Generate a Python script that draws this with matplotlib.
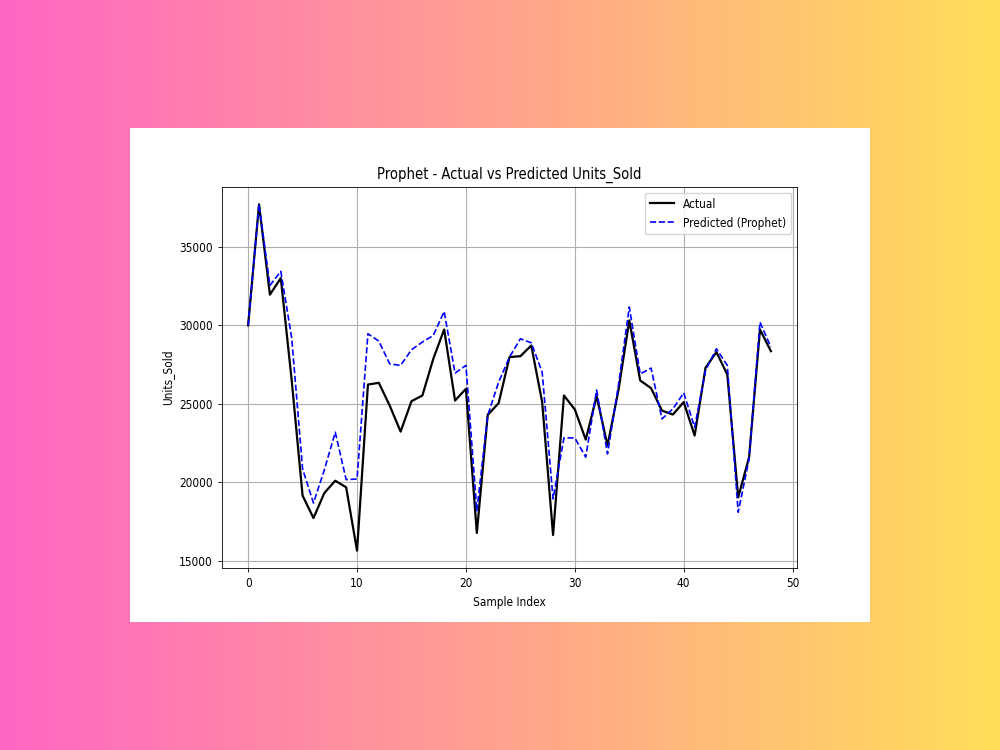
import numpy as np
import matplotlib
matplotlib.use('Agg')
import matplotlib.pyplot as plt
from matplotlib.colors import LinearSegmentedColormap
from matplotlib.patches import Rectangle
from matplotlib import font_manager

# values
actual = [30000, 37720, 31960, 33020, 26500, 19150, 17720, 19320, 20100, 19680,
          15640, 26230, 26340, 24890, 23230, 25170, 25530, 27870, 29740, 25210,
          25960, 16770, 24300, 25040, 27980, 28040, 28720, 25110, 16640, 25530,
          24640, 22720, 25490, 22340, 25850, 30320, 26490, 26000, 24570, 24320,
          25110, 22980, 27300, 28300, 26870, 19040, 21600, 29740, 28360]
predicted = [30000, 37720, 32550, 33450, 29200, 20850, 18680, 20800, 23190, 20170,
             20210, 29470, 29000, 27550, 27450, 28450, 28940, 29360, 30890, 26960,
             27450, 18190, 24260, 26380, 27980, 29150, 28890, 27020, 18940, 22830,
             22830, 21600, 25880, 21810, 26170, 31170, 26910, 27280, 24040, 24680,
             25700, 23510, 27130, 28510, 27450, 18090, 21490, 30210, 28620]
idx = np.arange(len(actual))

# condensed look of the reference text
fp = font_manager.FontProperties(family='DejaVu Sans', stretch='condensed')
print(font_manager.findfont(fp))
plt.rcParams['font.stretch'] = 'condensed'

fig = plt.figure(figsize=(10, 7.5), dpi=100)

# gradient background + white card
bg = fig.add_axes([0, 0, 1, 1])
bg.axis('off')
grad = LinearSegmentedColormap.from_list('bg', ['#ff66c4', '#ffde59'])
bg.imshow(np.linspace(0, 1, 256)[None, :], aspect='auto', cmap=grad,
          extent=[0, 1, 0, 1])
bg.add_patch(Rectangle((0.130, 1 - 622 / 750), 0.740, 494 / 750,
                       facecolor='white', edgecolor='none'))
bg.set_xlim(0, 1)
bg.set_ylim(0, 1)

ax = fig.add_axes([0.222, 1 - 568 / 750, 0.575, (568 - 187) / 750])
ax.plot(idx, actual, color='black', linewidth=1.6, label='Actual')
ax.plot(idx, predicted, color='blue', linestyle='--', linewidth=1.2,
        label='Predicted (Prophet)')
ax.set_title('Prophet - Actual vs Predicted Units_Sold', fontsize=10.5, pad=6)
ax.set_xlabel('Sample Index', fontsize=8.5)
ax.set_ylabel('Units_Sold', fontsize=8.5)
ax.tick_params(labelsize=8.5, width=0.6, length=3)
ax.grid(True, color='#b0b0b0', linewidth=0.8)
for s in ax.spines.values():
    s.set_linewidth(0.6)
ax.legend(loc='upper right', fontsize=8.5)

fig.savefig('out.png', dpi=100)
